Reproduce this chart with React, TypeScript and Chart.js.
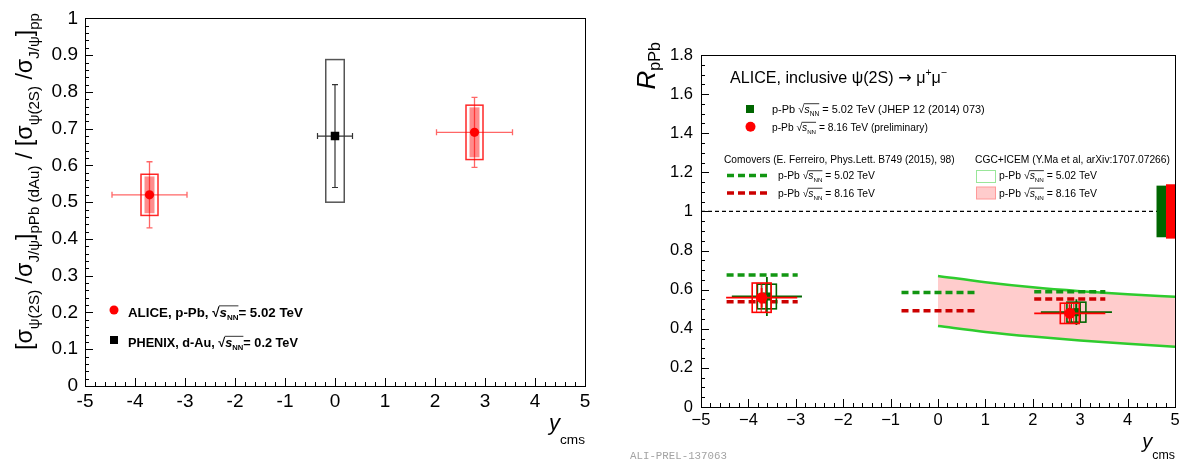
import React, { useEffect, useRef } from 'react';
import { Chart, registerables } from 'chart.js';
Chart.register(...registerables);

const FAM = '"Liberation Sans", Arial, Helvetica, sans-serif';
const MONO = '"Liberation Mono", "DejaVu Sans Mono", monospace';
const DEJAVU = '"DejaVu Sans", sans-serif';

// ---------------- Left panel data ----------------
const leftXTicks = [-5, -4, -3, -2, -1, 0, 1, 2, 3, 4, 5];
const leftXTickLabels = ['-5', '-4', '-3', '-2', '-1', '0', '1', '2', '3', '4', '5'];
const leftYTicks = [0, 0.1, 0.2, 0.3, 0.4, 0.5, 0.6, 0.7, 0.8, 0.9, 1];
const leftYTickLabels = ['0', '0.1', '0.2', '0.3', '0.4', '0.5', '0.6', '0.7', '0.8', '0.9', '1'];

const aliceRap = [-3.71, 2.79];
const aliceRatio = [0.52, 0.69];
const aliceRapHalfWidth = [0.75, 0.76];
const aliceStat = [0.09, 0.095];
const aliceSystUncorr = [0.056, 0.074];
const aliceSystCorr = [0.05, 0.068];

const phenixRap = [0];
const phenixRatio = [0.68];
const phenixRapHalfWidth = [0.35];
const phenixStat = [0.14];
const phenixSystLow = [0.18];
const phenixSystHigh = [0.208];

// ---------------- Right panel data ----------------
const rightXTicks = [-5, -4, -3, -2, -1, 0, 1, 2, 3, 4, 5];
const rightXTickLabels = ['−5', '−4', '−3', '−2', '−1', '0', '1', '2', '3', '4', '5'];
const rightYTicks = [0, 0.2, 0.4, 0.6, 0.8, 1, 1.2, 1.4, 1.6, 1.8];
const rightYTickLabels = ['0', '0.2', '0.4', '0.6', '0.8', '1', '1.2', '1.4', '1.6', '1.8'];

const rap502 = [-3.61, 2.92];
const rpa502 = [0.565, 0.485];
const rpa502Stat = [0.1, 0.066];
const rpa502Syst = [0.063, 0.051];
const rpa502RapHalfWidth = [0.74, 0.75];
const rpa502Global = 0.132;
const rpa502GlobalRap = [4.61, 4.81];

const rap816 = [-3.72, 2.78];
const rpa816 = [0.559, 0.479];
const rpa816Stat = [0.05, 0.045];
const rpa816Syst = [0.075, 0.052];
const rpa816RapHalfWidth = [0.75, 0.75];
const rpa816Global = 0.139;
const rpa816GlobalRap = [4.81, 5.0];

const comoversRapLow = [-4.46, -0.77, 2.03];
const comoversRapHigh = [-2.96, 0.78, 3.53];
const comovers502 = [0.675, 0.586, 0.589];
const comovers816 = [0.538, 0.492, 0.552];

const cgcRap = [0, 1, 2, 3, 4, 5];
const cgcUpper = [0.67, 0.638, 0.612, 0.592, 0.576, 0.564];
const cgcLower = [0.414, 0.384, 0.36, 0.34, 0.323, 0.308];

const unityRap = [-5, 5];
const unityVal = [1, 1];

// ---------------- colours ----------------
const RED = '#ff0000';
const DKGREEN = '#006600';
const COMOV_GREEN = '#129612';
const COMOV_RED = '#cc0000';
const CGC_GREEN = '#2ecc2e';
const CGC_FILL = '#ffcccc';

// ---------------- rich text ----------------
type Seg = { t: string; sub?: boolean; sup?: boolean; it?: boolean; over?: boolean; dy?: number; k?: number; fam?: string };
function fontStr(size: number, it?: boolean, bold?: boolean, fam: string = FAM) {
  return `${it ? 'italic ' : ''}${bold ? 'bold ' : ''}${size}px ${fam}`;
}
function measureRich(ctx: CanvasRenderingContext2D, segs: Seg[], size: number, bold?: boolean, fam?: string) {
  let x = 0;
  const items: any[] = [];
  for (const s of segs) {
    const k = s.k !== undefined ? s.k : s.sub || s.sup ? 0.65 : 1;
    const sz = size * k;
    ctx.font = fontStr(sz, s.it, bold, s.fam || fam);
    const w = ctx.measureText(s.t).width;
    const dy = s.dy !== undefined ? s.dy * size : s.sub ? 0.3 * size : s.sup ? -0.42 * size : 0;
    items.push({ s, x, w, sz, dy });
    x += w;
  }
  return { items, width: x };
}
function drawRich(
  ctx: CanvasRenderingContext2D,
  segs: Seg[],
  x: number,
  y: number,
  size: number,
  o: { bold?: boolean; align?: string; color?: string; fam?: string; fitW?: number } = {}
) {
  let sz = size;
  if (o.fitW) {
    const m = measureRich(ctx, segs, size, o.bold, o.fam);
    sz = (size * o.fitW) / m.width;
  }
  const { items, width } = measureRich(ctx, segs, sz, o.bold, o.fam);
  const x0 = o.align === 'right' ? x - width : o.align === 'center' ? x - width / 2 : x;
  ctx.save();
  ctx.fillStyle = o.color || '#000';
  ctx.strokeStyle = o.color || '#000';
  ctx.textAlign = 'left';
  ctx.textBaseline = 'alphabetic';
  let ox0: number | null = null;
  let ox1 = 0;
  for (const it of items) {
    ctx.font = fontStr(it.sz, it.s.it, o.bold, it.s.fam || o.fam);
    ctx.fillText(it.s.t, x0 + it.x, y + it.dy);
    if (it.s.over) {
      if (ox0 === null) ox0 = x0 + it.x;
      ox1 = x0 + it.x + it.w;
    }
  }
  if (ox0 !== null) {
    ctx.lineWidth = Math.max(0.8, sz * 0.06);
    ctx.beginPath();
    ctx.moveTo(ox0 - 0.5, y - sz * 0.8);
    ctx.lineTo(ox1, y - sz * 0.8);
    ctx.stroke();
  }
  ctx.restore();
  return width;
}
const sqrtS: Seg[] = [{ t: '√' }, { t: 's', it: true, over: true }, { t: 'NN', sub: true, over: true, k: 0.6 }];

// ---------------- axes ----------------
function drawAxes(chart: any, xMajor: number, xMinor: number, yMajor: number, yMinor: number, majLen: number, minLen: number) {
  const ctx = chart.ctx as CanvasRenderingContext2D;
  const a = chart.chartArea;
  const xs = chart.scales.x;
  const ys = chart.scales.y;
  const isMajor = (v: number, m: number) => Math.abs(v / m - Math.round(v / m)) < 1e-6;
  ctx.save();
  ctx.strokeStyle = '#000';
  ctx.lineWidth = 1;
  ctx.beginPath();
  const nx = Math.round((xs.max - xs.min) / xMinor);
  for (let i = 0; i <= nx; i++) {
    const v = xs.min + i * xMinor;
    const p = Math.round(xs.getPixelForValue(v)) + 0.5;
    const L = isMajor(v, xMajor) ? majLen : minLen;
    ctx.moveTo(p, a.bottom);
    ctx.lineTo(p, a.bottom - L);
  }
  const ny = Math.round((ys.max - ys.min) / yMinor);
  for (let i = 0; i <= ny; i++) {
    const v = ys.min + i * yMinor;
    const p = Math.round(ys.getPixelForValue(v)) + 0.5;
    const L = isMajor(v, yMajor) ? majLen : minLen;
    ctx.moveTo(a.left, p);
    ctx.lineTo(a.left + L, p);
  }
  ctx.stroke();
  ctx.strokeRect(Math.round(a.left) + 0.5, Math.round(a.top) + 0.5, Math.round(a.right - a.left), Math.round(a.bottom - a.top));
  ctx.restore();
}

function line(ctx: CanvasRenderingContext2D, x0: number, y0: number, x1: number, y1: number) {
  ctx.moveTo(x0, y0);
  ctx.lineTo(x1, y1);
}

// ---------------- left plugin ----------------
const leftPlugin = {
  id: 'leftExtras',
  beforeDatasetDraw(chart: any, args: any) {
    const ds = chart.data.datasets[args.index];
    const ctx = chart.ctx as CanvasRenderingContext2D;
    const X = (v: number) => chart.scales.x.getPixelForValue(v);
    const Y = (v: number) => chart.scales.y.getPixelForValue(v);
    ctx.save();
    if (ds.kind === 'alice') {
      for (let i = 0; i < aliceRap.length; i++) {
        const x = aliceRap[i];
        const y = aliceRatio[i];
        ctx.fillStyle = 'rgba(255,0,0,0.45)';
        const fx0 = X(x - 0.1), fx1 = X(x + 0.1);
        ctx.fillRect(fx0, Y(y + aliceSystCorr[i]), fx1 - fx0, Y(y - aliceSystCorr[i]) - Y(y + aliceSystCorr[i]));
        ctx.strokeStyle = 'rgba(255,0,0,0.85)';
        ctx.lineWidth = 1.5;
        const bx0 = X(x - 0.17), bx1 = X(x + 0.17);
        ctx.strokeRect(bx0, Y(y + aliceSystUncorr[i]), bx1 - bx0, Y(y - aliceSystUncorr[i]) - Y(y + aliceSystUncorr[i]));
        ctx.strokeStyle = 'rgba(255,0,0,0.6)';
        ctx.lineWidth = 1.3;
        ctx.beginPath();
        const xl = X(x - aliceRapHalfWidth[i]), xr = X(x + aliceRapHalfWidth[i]);
        const yt = Y(y + aliceStat[i]), yb = Y(y - aliceStat[i]);
        line(ctx, xl, Y(y), xr, Y(y));
        line(ctx, xl, Y(y) - 3, xl, Y(y) + 3);
        line(ctx, xr, Y(y) - 3, xr, Y(y) + 3);
        line(ctx, X(x), yt, X(x), yb);
        line(ctx, X(x) - 3, yt, X(x) + 3, yt);
        line(ctx, X(x) - 3, yb, X(x) + 3, yb);
        ctx.stroke();
      }
    }
    if (ds.kind === 'phenix') {
      for (let i = 0; i < phenixRap.length; i++) {
        const x = phenixRap[i];
        const y = phenixRatio[i];
        ctx.strokeStyle = '#555';
        ctx.lineWidth = 1.5;
        const bx0 = X(x - 0.185), bx1 = X(x + 0.185);
        ctx.strokeRect(bx0, Y(y + phenixSystHigh[i]), bx1 - bx0, Y(y - phenixSystLow[i]) - Y(y + phenixSystHigh[i]));
        ctx.strokeStyle = '#333';
        ctx.lineWidth = 1.2;
        ctx.beginPath();
        const xl = X(x - phenixRapHalfWidth[i]), xr = X(x + phenixRapHalfWidth[i]);
        const yt = Y(y + phenixStat[i]), yb = Y(y - phenixStat[i]);
        line(ctx, xl, Y(y), xr, Y(y));
        line(ctx, xl, Y(y) - 3, xl, Y(y) + 3);
        line(ctx, xr, Y(y) - 3, xr, Y(y) + 3);
        line(ctx, X(x), yt, X(x), yb);
        line(ctx, X(x) - 3, yt, X(x) + 3, yt);
        line(ctx, X(x) - 3, yb, X(x) + 3, yb);
        ctx.stroke();
      }
    }
    ctx.restore();
  },
  afterDraw(chart: any) {
    const ctx = chart.ctx as CanvasRenderingContext2D;
    drawAxes(chart, 1, 0.2, 0.1, 0.02, 8, 4);
    const ytitle: Seg[] = [
      { t: '[' }, { t: 'σ' }, { t: 'ψ(2S)', sub: true }, { t: ' /' }, { t: 'σ' }, { t: 'J/ψ', sub: true }, { t: ']' },
      { t: 'pPb (dAu)', sub: true }, { t: ' / [' }, { t: 'σ' }, { t: 'ψ(2S)', sub: true }, { t: ' /' }, { t: 'σ' },
      { t: 'J/ψ', sub: true }, { t: ']' }, { t: 'pp', sub: true },
    ];
    ctx.save();
    ctx.translate(32, 13);
    ctx.rotate(-Math.PI / 2);
    drawRich(ctx, ytitle, 0, 0, 22, { align: 'right', fitW: 337 });
    ctx.restore();
    drawRich(ctx, [{ t: 'y', it: true }, { t: 'cms', sub: true, k: 0.62, dy: 0.62 }], 585, 430, 22, { align: 'right' });
    ctx.save();
    ctx.fillStyle = RED;
    ctx.beginPath();
    ctx.arc(114, 310, 4.5, 0, Math.PI * 2);
    ctx.fill();
    ctx.fillStyle = '#000';
    ctx.fillRect(110, 336, 8, 8);
    ctx.restore();
    drawRich(ctx, [{ t: 'ALICE, p-Pb, ' }, ...sqrtS, { t: '= 5.02 TeV' }], 128, 316.5, 14, { bold: true, fitW: 175 });
    drawRich(ctx, [{ t: 'PHENIX, d-Au, ' }, ...sqrtS, { t: '= 0.2 TeV' }], 128, 346.5, 14, { bold: true, fitW: 170 });
  },
};

// ---------------- right plugin ----------------
function drawRightSeries(chart: any, e: any) {
  const ctx = chart.ctx as CanvasRenderingContext2D;
  const X = (v: number) => chart.scales.x.getPixelForValue(v);
  const Y = (v: number) => chart.scales.y.getPixelForValue(v);
  ctx.save();
  ctx.fillStyle = e.color;
  ctx.fillRect(X(e.gx[0]), Y(1 + e.global), X(e.gx[1]) - X(e.gx[0]), Y(1 - e.global) - Y(1 + e.global));
  for (let i = 0; i < e.x.length; i++) {
    const x = e.x[i];
    const y = e.y[i];
    const x0 = X(x - 0.2), x1 = X(x + 0.2);
    const yT = Y(y + e.syst[i]), yB = Y(y - e.syst[i]);
    ctx.strokeStyle = e.color;
    ctx.lineWidth = 1;
    ctx.beginPath();
    for (let hx = x0 + 4.5; hx < x1 - 2; hx += 4.5) line(ctx, hx, yT, hx, yB);
    ctx.stroke();
    ctx.lineWidth = 1.6;
    ctx.strokeRect(x0, yT, x1 - x0, yB - yT);
    ctx.lineWidth = 1.8;
    ctx.beginPath();
    line(ctx, X(x - e.xerr[i]), Y(y), X(x + e.xerr[i]), Y(y));
    line(ctx, X(x), Y(y + e.stat[i]), X(x), Y(y - e.stat[i]));
    ctx.stroke();
  }
  ctx.restore();
}

const rightPlugin = {
  id: 'rightExtras',
  beforeDatasetDraw(chart: any, args: any) {
    const ds = chart.data.datasets[args.index];
    if (ds.extra) drawRightSeries(chart, ds.extra);
  },
  afterDraw(chart: any) {
    const ctx = chart.ctx as CanvasRenderingContext2D;
    drawAxes(chart, 1, 0.2, 0.2, 0.05, 8, 4);
    ctx.save();
    ctx.translate(55, 42);
    ctx.rotate(-Math.PI / 2);
    drawRich(ctx, [{ t: 'R', it: true }, { t: 'pPb', sub: true, k: 0.62, dy: 0.2 }], 0, 0, 26, { align: 'right' });
    ctx.restore();
    drawRich(ctx, [{ t: 'y', it: true }, { t: 'cms', sub: true, k: 0.62, dy: 0.55 }], 575, 448, 20, { align: 'right' });
    drawRich(
      ctx,
      [{ t: 'ALICE, inclusive ψ(2S) ' }, { t: '→', fam: DEJAVU }, { t: ' μ' }, { t: '+', sup: true }, { t: 'μ' }, { t: '−', sup: true }],
      130, 83, 15.5, { fitW: 217 }
    );
    ctx.save();
    ctx.fillStyle = DKGREEN;
    ctx.fillRect(146, 105, 8, 8);
    ctx.fillStyle = RED;
    ctx.beginPath();
    ctx.arc(150.5, 126.7, 5, 0, Math.PI * 2);
    ctx.fill();
    ctx.restore();
    drawRich(ctx, [{ t: 'p-Pb ' }, ...sqrtS, { t: ' = 5.02 TeV (JHEP 12 (2014) 073)' }], 172, 112.5, 11, { fitW: 213 });
    drawRich(ctx, [{ t: 'p-Pb ' }, ...sqrtS, { t: ' = 8.16 TeV (preliminary)' }], 172, 130.5, 11, { fitW: 156 });
    drawRich(ctx, [{ t: 'Comovers (E. Ferreiro, Phys.Lett. B749 (2015), 98)' }], 124, 162.5, 10.5, { fitW: 231 });
    drawRich(ctx, [{ t: 'CGC+ICEM (Y.Ma et al, arXiv:1707.07266)' }], 375, 162.5, 10.5, { fitW: 195 });
    ctx.save();
    ctx.lineWidth = 3.5;
    ctx.setLineDash([7, 4]);
    ctx.strokeStyle = COMOV_GREEN;
    ctx.beginPath();
    line(ctx, 127, 175.5, 171, 175.5);
    ctx.stroke();
    ctx.strokeStyle = COMOV_RED;
    ctx.beginPath();
    line(ctx, 127, 193, 171, 193);
    ctx.stroke();
    ctx.setLineDash([]);
    ctx.lineWidth = 1;
    ctx.strokeStyle = '#99e699';
    ctx.strokeRect(376.5, 170.5, 19, 12);
    ctx.fillStyle = CGC_FILL;
    ctx.fillRect(376.5, 187, 19, 12);
    ctx.strokeStyle = '#ff9a9a';
    ctx.strokeRect(376.5, 187, 19, 12);
    ctx.restore();
    drawRich(ctx, [{ t: 'p-Pb ' }, ...sqrtS, { t: ' = 5.02 TeV' }], 178, 179, 11, { fitW: 97 });
    drawRich(ctx, [{ t: 'p-Pb ' }, ...sqrtS, { t: ' = 8.16 TeV' }], 178, 196.5, 11, { fitW: 97 });
    drawRich(ctx, [{ t: 'p-Pb ' }, ...sqrtS, { t: ' = 5.02 TeV' }], 399, 179, 11, { fitW: 98 });
    drawRich(ctx, [{ t: 'p-Pb ' }, ...sqrtS, { t: ' = 8.16 TeV' }], 399, 196.5, 11, { fitW: 98 });
    drawRich(ctx, [{ t: 'ALI-PREL-137063' }], 30, 459, 11, { fam: MONO, color: '#a3a3a3', fitW: 97 });
  },
};

function axisCfg(ticks: number[], labels: string[], min: number, max: number, size: number, pad: number, fit: (s: any) => void) {
  return {
    type: 'linear',
    min,
    max,
    grid: { display: false, drawTicks: false },
    border: { display: false },
    afterBuildTicks: (s: any) => {
      s.ticks = ticks.map((v) => ({ value: v }));
    },
    afterFit: fit,
    ticks: {
      autoSkip: false,
      maxRotation: 0,
      padding: pad,
      color: '#000',
      font: { family: FAM, size },
      callback: (_v: any, i: number) => labels[i],
    },
  };
}

function LeftChart() {
  const ref = useRef<HTMLCanvasElement>(null);
  useEffect(() => {
    const chart = new Chart(ref.current as HTMLCanvasElement, {
      type: 'scatter',
      data: {
        datasets: [
          {
            kind: 'phenix',
            order: 2,
            data: phenixRap.map((x, i) => ({ x, y: phenixRatio[i] })),
            pointStyle: 'rect',
            pointRadius: 6,
            backgroundColor: '#000',
            borderWidth: 0,
          } as any,
          {
            kind: 'alice',
            order: 1,
            data: aliceRap.map((x, i) => ({ x, y: aliceRatio[i] })),
            pointStyle: 'circle',
            pointRadius: 4.6,
            backgroundColor: RED,
            borderWidth: 0,
          } as any,
        ],
      },
      options: {
        responsive: false,
        animation: false,
        devicePixelRatio: 1,
        events: [],
        layout: { padding: { left: 0, right: 15, top: 14, bottom: 0 } },
        plugins: { legend: { display: false }, tooltip: { enabled: false } },
        scales: {
          x: axisCfg(leftXTicks, leftXTickLabels, -5, 5, 19, 4, (s: any) => { s.height = 78; }),
          y: axisCfg(leftYTicks, leftYTickLabels, 0, 1, 19, 7, (s: any) => { s.width = 85; }),
        } as any,
      },
      plugins: [leftPlugin as any],
    });
    return () => chart.destroy();
  }, []);
  return <canvas ref={ref} width={600} height={464} style={{ position: 'absolute', left: 0, top: 0, width: 600, height: 464 }} />;
}

function RightChart() {
  const ref = useRef<HTMLCanvasElement>(null);
  useEffect(() => {
    const comovDatasets: any[] = [];
    comoversRapLow.forEach((lo, i) => {
      comovDatasets.push({
        order: 10,
        showLine: true,
        data: [{ x: lo, y: comovers502[i] }, { x: comoversRapHigh[i], y: comovers502[i] }],
        borderColor: COMOV_GREEN,
        borderWidth: 3.5,
        borderDash: [7, 4],
        pointRadius: 0,
        fill: false,
      });
      comovDatasets.push({
        order: 10,
        showLine: true,
        data: [{ x: lo, y: comovers816[i] }, { x: comoversRapHigh[i], y: comovers816[i] }],
        borderColor: COMOV_RED,
        borderWidth: 3.5,
        borderDash: [7, 4],
        pointRadius: 0,
        fill: false,
      });
    });
    const chart = new Chart(ref.current as HTMLCanvasElement, {
      type: 'scatter',
      data: {
        datasets: [
          {
            order: 20,
            showLine: true,
            data: cgcRap.map((x, i) => ({ x, y: cgcUpper[i] })),
            borderColor: CGC_GREEN,
            borderWidth: 2.5,
            pointRadius: 0,
            cubicInterpolationMode: 'monotone',
            fill: false,
          },
          {
            order: 21,
            showLine: true,
            data: cgcRap.map((x, i) => ({ x, y: cgcLower[i] })),
            borderColor: CGC_GREEN,
            borderWidth: 2.5,
            pointRadius: 0,
            cubicInterpolationMode: 'monotone',
            backgroundColor: CGC_FILL,
            fill: '-1',
          },
          ...comovDatasets,
          {
            order: 9,
            showLine: true,
            data: unityRap.map((x, i) => ({ x, y: unityVal[i] })),
            borderColor: '#000',
            borderWidth: 1.3,
            borderDash: [4, 3],
            pointRadius: 0,
            fill: false,
          },
          {
            order: 2,
            extra: { color: DKGREEN, x: rap502, y: rpa502, stat: rpa502Stat, syst: rpa502Syst, xerr: rpa502RapHalfWidth, global: rpa502Global, gx: rpa502GlobalRap },
            data: rap502.map((x, i) => ({ x, y: rpa502[i] })),
            pointStyle: 'rect',
            pointRadius: 5.7,
            backgroundColor: DKGREEN,
            borderWidth: 0,
          },
          {
            order: 1,
            extra: { color: RED, x: rap816, y: rpa816, stat: rpa816Stat, syst: rpa816Syst, xerr: rpa816RapHalfWidth, global: rpa816Global, gx: rpa816GlobalRap },
            data: rap816.map((x, i) => ({ x, y: rpa816[i] })),
            pointStyle: 'circle',
            pointRadius: 5.5,
            backgroundColor: RED,
            borderWidth: 0,
          },
        ] as any,
      },
      options: {
        responsive: false,
        animation: false,
        devicePixelRatio: 1,
        events: [],
        layout: { padding: { left: 0, right: 10, top: 55, bottom: 0 } },
        plugins: { legend: { display: false }, tooltip: { enabled: false }, filler: { drawTime: 'beforeDatasetsDraw' } } as any,
        scales: {
          x: axisCfg(rightXTicks, rightXTickLabels, -5, 5, 16.5, 4, (s: any) => { s.height = 57; }),
          y: axisCfg(rightYTicks, rightYTickLabels, 0, 1.8, 16.5, 8, (s: any) => { s.width = 101; }),
        } as any,
      },
      plugins: [rightPlugin as any],
    });
    return () => chart.destroy();
  }, []);
  return <canvas ref={ref} width={585} height={464} style={{ position: 'absolute', left: 600, top: 0, width: 585, height: 464 }} />;
}

export default function App() {
  return (
    <div style={{ position: 'absolute', left: 0, top: 0, width: 1185, height: 464, background: '#fff', overflow: 'hidden' }}>
      <LeftChart />
      <RightChart />
    </div>
  );
}
